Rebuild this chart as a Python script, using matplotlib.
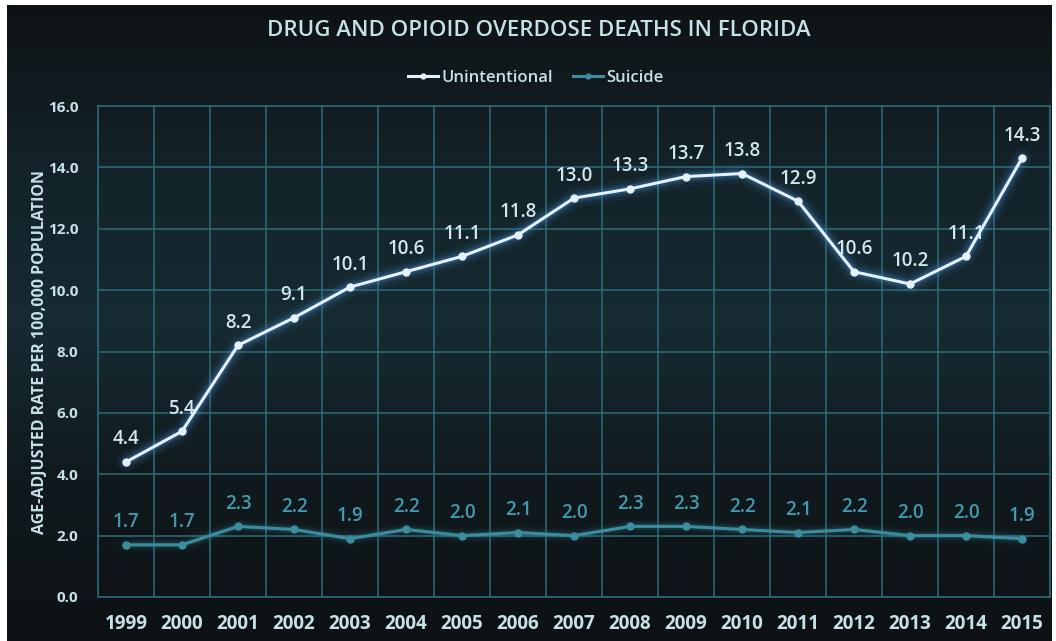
import numpy as np
import matplotlib
matplotlib.use('Agg')
import matplotlib.pyplot as plt
from matplotlib.colors import LinearSegmentedColormap

YEARS = ['1999', '2000', '2001', '2002', '2003', '2004', '2005', '2006', '2007',
         '2008', '2009', '2010', '2011', '2012', '2013', '2014', '2015']
UNINTENTIONAL = [4.4, 5.4, 8.2, 9.1, 10.1, 10.6, 11.1, 11.8, 13.0,
                 13.3, 13.7, 13.8, 12.9, 10.6, 10.2, 11.1, 14.3]
SUICIDE = [1.7, 1.7, 2.3, 2.2, 1.9, 2.2, 2.0, 2.1, 2.0,
           2.3, 2.3, 2.2, 2.1, 2.2, 2.0, 2.0, 1.9]
Y_TICKS = [0, 2, 4, 6, 8, 10, 12, 14, 16]

FONT = ['Open Sans', 'DejaVu Sans']
plt.rcParams['font.family'] = FONT

C_TEXT = '#c6e2e8'
C_GRID = '#2b6670'
C_UNINT = '#e4f2fa'
C_GLOW = '#4b8fe0'
C_SUIC = '#3b8d9f'
C_SUIC_TXT = '#4599ad'

fig = plt.figure(figsize=(10.56, 6.41), dpi=100)
fig.patch.set_facecolor('white')

# dark panel with vertical gradient
bg = fig.add_axes([7 / 1056, 0, 1045 / 1056, 636 / 641])
bg.axis('off')
cmap = LinearSegmentedColormap.from_list('bg', ['#0e1215', '#132329', '#162b32', '#101a1e', '#0d1114'])
grad = np.linspace(0, 1, 256).reshape(-1, 1)
bg.imshow(grad, cmap=cmap, aspect='auto', extent=[0, 1, 0, 1], origin='upper')
bg.set_xlim(0, 1)
bg.set_ylim(0, 1)

ax = fig.add_axes([98 / 1056, 44 / 641, 952 / 1056, 491 / 641])
ax.patch.set_alpha(0)
x = np.arange(len(YEARS))

# glow
for lw, a in [(14, 0.07), (9, 0.12), (5.5, 0.22)]:
    ax.plot(x, UNINTENTIONAL, color=C_GLOW, lw=lw, alpha=a, solid_capstyle='round', zorder=3)
    ax.plot(x, SUICIDE, color=C_SUIC, lw=lw * 0.8, alpha=a * 0.7, solid_capstyle='round', zorder=3)

ax.plot(x, UNINTENTIONAL, color=C_UNINT, lw=2.2, marker='o', ms=5, zorder=5, label='Unintentional')
ax.plot(x, SUICIDE, color=C_SUIC, lw=2.2, marker='o', ms=5, zorder=5, label='Suicide')

for xi, v in zip(x, UNINTENTIONAL):
    ax.annotate(f'{v:.1f}', (xi, v), xytext=(0, 9), textcoords='offset points',
                ha='center', va='bottom', color='#d2e8ee', fontsize=13.5, fontweight='semibold')
for xi, v in zip(x, SUICIDE):
    ax.annotate(f'{v:.1f}', (xi, v), xytext=(0, 9), textcoords='offset points',
                ha='center', va='bottom', color=C_SUIC_TXT, fontsize=13.5, fontweight='semibold')

ax.set_xlim(-0.5, len(YEARS) - 0.5)
ax.set_ylim(0, 16)
ax.set_xticks(x)
ax.set_xticklabels(YEARS)
ax.set_xticks(np.arange(-0.5, len(YEARS), 1), minor=True)
ax.set_yticks(Y_TICKS)
ax.set_yticklabels([f'{t:.1f}' for t in Y_TICKS])
ax.grid(which='minor', axis='x', color=C_GRID, lw=1.2)
ax.grid(which='major', axis='y', color=C_GRID, lw=1.2)
ax.tick_params(axis='x', which='both', length=0, pad=12, colors=C_TEXT, labelsize=13.5)
ax.tick_params(axis='y', length=0, pad=14, colors=C_TEXT, labelsize=11)
for lbl in ax.get_xticklabels() + ax.get_yticklabels():
    lbl.set_fontweight('bold')
for s in ax.spines.values():
    s.set_color(C_GRID)
    s.set_linewidth(1.2)

ax.set_ylabel('AGE-ADJUSTED RATE PER 100,000 POPULATION', color=C_TEXT,
              fontsize=11.5, fontweight='bold', labelpad=0)

fig.text(0.51, 0.953, 'DRUG AND OPIOID OVERDOSE DEATHS IN FLORIDA', ha='center', va='center',
         color=C_TEXT, fontsize=16, fontweight='semibold')

leg = ax.legend(loc='lower center', bbox_to_anchor=(0.46, 1.01), ncol=2, frameon=False,
                fontsize=12, handlelength=1.8, handletextpad=0.2, columnspacing=1.2,
                markerscale=0.7)
for t in leg.get_texts():
    t.set_color(C_TEXT)
    t.set_fontweight('semibold')

fig.savefig('out.png', dpi=100, facecolor=fig.get_facecolor())
